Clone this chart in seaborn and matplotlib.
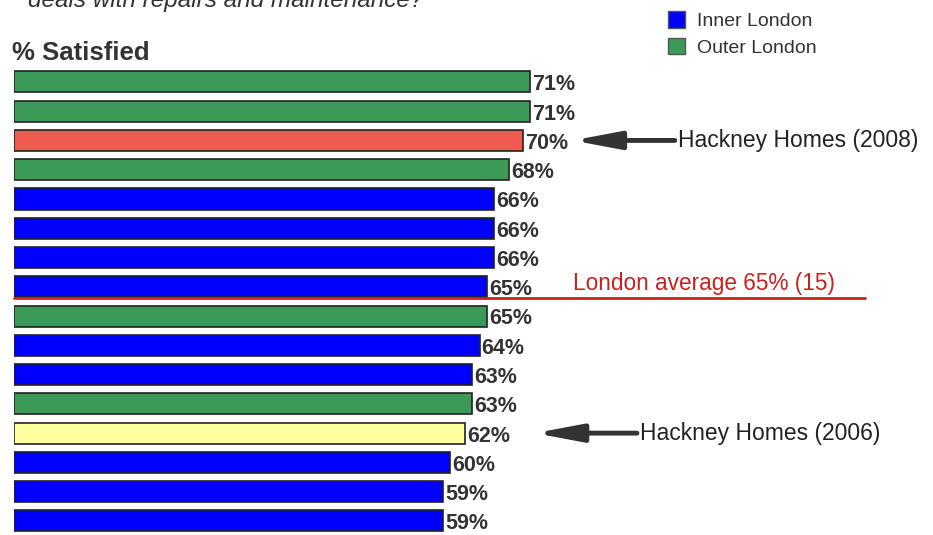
import numpy as np
import pandas as pd
import matplotlib
matplotlib.use("Agg")
import matplotlib.pyplot as plt
from matplotlib.patches import Patch
import seaborn as sns

# data (top to bottom)
satisfied = [71, 71, 70, 68, 66, 66, 66, 65, 65, 64, 63, 63, 62, 60, 59, 59]
group = ["Outer", "Outer", "Hackney 2008", "Outer", "Inner", "Inner", "Inner", "Inner",
         "Outer", "Inner", "Inner", "Outer", "Hackney 2006", "Inner", "Inner", "Inner"]
london_avg = 65
n_landlords = 15

colours = {"Inner": "#0000FF", "Outer": "#3C9A58", "Hackney 2008": "#EE5A50",
           "Hackney 2006": "#FFFF9E"}

df = pd.DataFrame({"row": [str(i) for i in range(len(satisfied))],
                   "pct": satisfied, "group": group})

sns.set_style("white")
plt.rcParams["font.family"] = ["Liberation Sans", "DejaVu Sans"]

fig = plt.figure(figsize=(9.33, 5.35), dpi=100)
ax = fig.add_axes([14 / 933, 0, 851 / 933, 473 / 535])

sns.barplot(data=df, x="pct", y="row", hue="group", palette=colours, dodge=False,
            orient="h", width=0.72, edgecolor="#222222", linewidth=1.2,
            saturation=1, legend=False, ax=ax)

ax.set_xlim(0, 117)
ax.set_ylim(15.48, -0.68)
ax.axis("off")

for i, v in enumerate(satisfied):
    ax.text(v + 0.3, i + 0.1, f"{v}%", va="center", ha="left",
            fontsize=15.5, fontweight="bold", color="#333333")

# London average line
ax.plot([0, 117], [7.38, 7.38], color="#C8221E", lw=2, clip_on=False)
ax.text(76.9, 6.88, f"London average {london_avg}% ({n_landlords})", color="#C8221E",
        fontsize=16.3, va="center", ha="left")

# Hackney call-outs
arrow = dict(arrowstyle="-|>,head_length=1.7,head_width=0.32", color="#333333",
             lw=3.5, shrinkA=0, shrinkB=0)
ax.annotate("Hackney Homes (2008)", xy=(76.8, 2), xytext=(91.3, 2),
            va="center", ha="left", fontsize=16.5, color="#222222", arrowprops=arrow)
ax.annotate("Hackney Homes (2006)", xy=(71.6, 12), xytext=(86.1, 12),
            va="center", ha="left", fontsize=16.5, color="#222222", arrowprops=arrow)

fig.text(12 / 933, 1 - 53 / 535, "% Satisfied", fontsize=18.5, fontweight="bold",
         color="#333333", va="center", ha="left")
fig.text(28 / 933, 1 - 1 / 535, "deals with repairs and maintenance?", fontsize=17.5,
         style="italic", color="#333333", va="center", ha="left")

handles = [Patch(facecolor=colours["Inner"], edgecolor="#555555", label="Inner London"),
           Patch(facecolor=colours["Outer"], edgecolor="#555555", label="Outer London")]
fig.legend(handles=handles, loc="upper left", bbox_to_anchor=(650 / 933, 1 + 6 / 535),
           frameon=False, fontsize=14, handlelength=0.9, handleheight=0.9,
           handletextpad=0.6, labelspacing=0.4, labelcolor="#333333")

fig.savefig("out.png", dpi=100)
